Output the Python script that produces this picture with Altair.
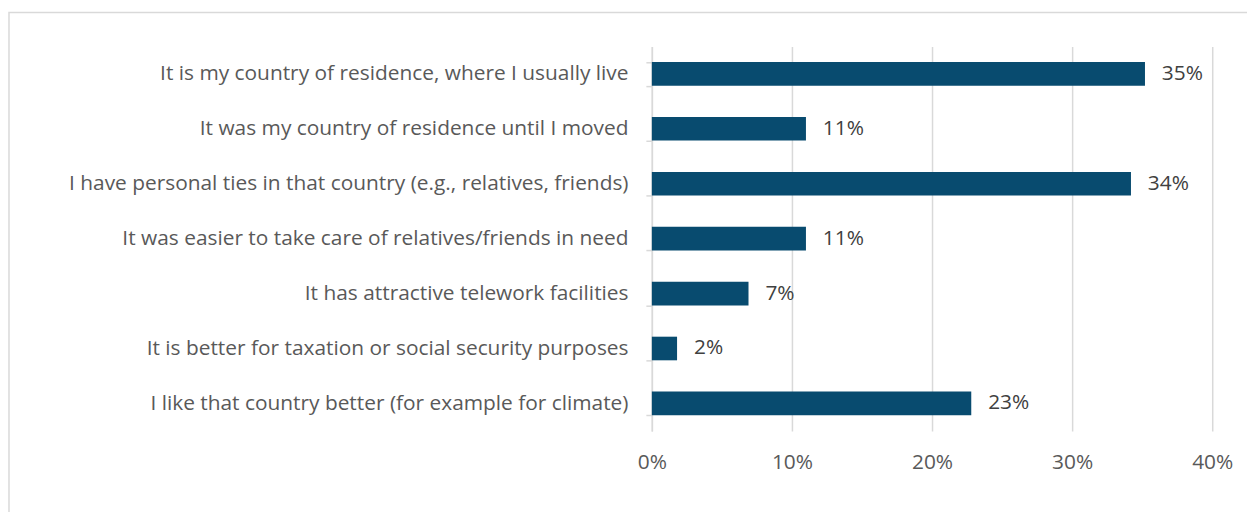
import altair as alt
import pandas as pd

categories = [
    "It is my country of residence, where I usually live",
    "It was my country of residence until I moved",
    "I have personal ties in that country (e.g., relatives, friends)",
    "It was easier to take care of relatives/friends in need",
    "It has attractive telework facilities",
    "It is better for taxation or social security purposes",
    "I like that country better (for example for climate)",
]
shares = [0.352, 0.110, 0.342, 0.110, 0.069, 0.018, 0.228]
x_ticks = [0.0, 0.1, 0.2, 0.3, 0.4]

df = pd.DataFrame({"reason": categories, "share": shares})

FONT = "Open Sans"
FS = 21
TEXT = "#595959"
GRID = "#d9d9d9"
BAR = "#084b6f"

y_enc = alt.Y(
    "reason:N",
    sort=categories,
    title=None,
    scale=alt.Scale(paddingInner=0.57, paddingOuter=0.285),
    axis=alt.Axis(
        labelFont=FONT, labelFontSize=FS, labelColor=TEXT, labelPadding=18,
        labelLimit=700, domainColor=GRID, domainWidth=1.5, tickColor=GRID,
        tickWidth=1.5, tickSize=6, tickBand="extent", grid=False,
    ),
)
x_enc = alt.X(
    "share:Q",
    title=None,
    scale=alt.Scale(domain=[0, 0.4], nice=False),
    axis=alt.Axis(
        values=x_ticks, format=".0%", labelFont=FONT, labelFontSize=FS,
        labelColor=TEXT, labelPadding=21, labelFlush=False, domain=False, ticks=False,
        grid=True, gridColor=GRID, gridWidth=1.5,
    ),
)

bars = alt.Chart(df).mark_bar(color=BAR).encode(x=x_enc, y=y_enc)
labels = alt.Chart(df).mark_text(
    align="left", baseline="middle", dx=17, font=FONT, fontSize=FS, color="#404040"
).encode(x="share:Q", y=alt.Y("reason:N", sort=categories), text=alt.Text("share:Q", format=".0%"))

frame = alt.Chart(alt.Data(values=[{"a": 1}])).mark_rect(
    fill="transparent", stroke=GRID, strokeWidth=1.5
).encode(x=alt.value(-647), x2=alt.value(640), y=alt.value(-34), y2=alt.value(520))

chart = alt.layer(frame, bars, labels).properties(
    width=564, height=387,
    autosize=alt.AutoSizeParams(type="none"),
    padding={"left": 648, "top": 37, "right": 35, "bottom": 80},
).configure_view(stroke=None)

chart.save("out.html", embed_options={"renderer": "svg", "actions": False})
